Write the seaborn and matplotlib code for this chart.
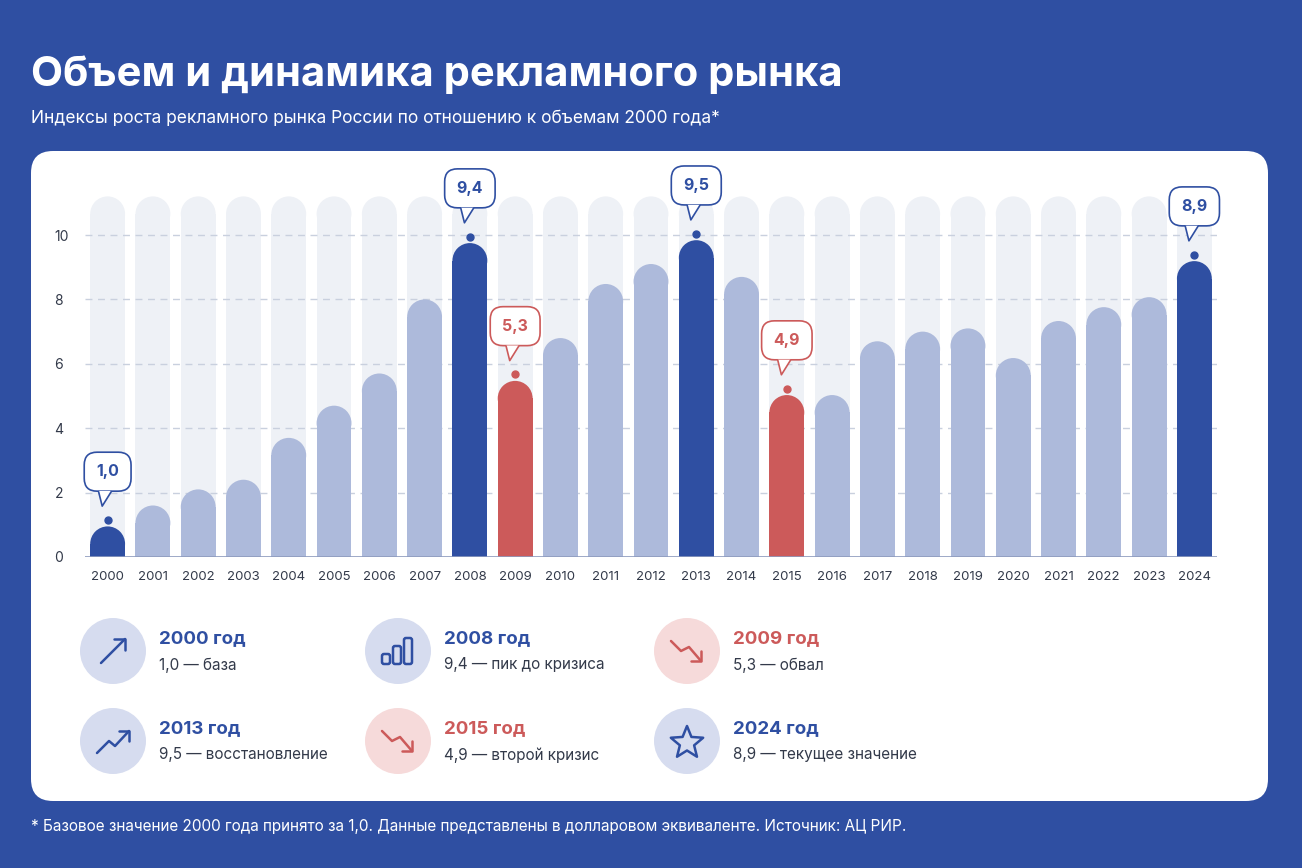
import matplotlib
matplotlib.use("Agg")
import matplotlib.pyplot as plt
import seaborn as sns
import pandas as pd
from matplotlib.patches import FancyBboxPatch, Ellipse, Rectangle, Circle, Polygon
import numpy as np

years = [str(y) for y in range(2000, 2025)]
values = [0.95, 1.6, 2.1, 2.4, 3.7, 4.7, 5.7, 8.0, 9.75, 5.47, 6.8, 8.48, 9.1, 9.84, 8.7,
          5.03, 5.03, 6.7, 7.0, 7.1, 6.18, 7.33, 7.76, 8.07, 9.19]
highlight = {"2000": "blue", "2008": "blue", "2013": "blue", "2024": "blue", "2009": "red", "2015": "red"}
callouts = {"2000": "1,0", "2008": "9,4", "2009": "5,3", "2013": "9,5", "2015": "4,9", "2024": "8,9"}
bg_height = 11.2
legend_titles = ["2000 год", "2008 год", "2009 год", "2013 год", "2015 год", "2024 год"]
legend_subs = ["1,0 — база", "9,4 — пик до кризиса", "5,3 — обвал",
               "9,5 — восстановление", "4,9 — второй кризис", "8,9 — текущее значение"]
legend_kind = ["blue", "blue", "red", "blue", "red", "blue"]

BG = "#2F4FA2"; DARK = "#2F4FA2"; LIGHT = "#ADBADB"; GREY = "#EEF1F6"; RED = "#CC5A5A"
sns.set_theme(style="white")
plt.rcParams['font.family'] = ['Inter', 'DejaVu Sans']

W, H = 1302, 868
fig = plt.figure(figsize=(13.02, 8.68), dpi=100, facecolor=BG)
bg = fig.add_axes([0, 0, 1, 1], zorder=0)
bg.set_xlim(0, W); bg.set_ylim(H, 0); bg.axis("off")
bg.add_patch(FancyBboxPatch((31, 151), 1237, 650, boxstyle="round,pad=0,rounding_size=22",
                            fc="white", ec="none"))
bg.text(31, 75, "Объем и динамика рекламного рынка", color="white", fontsize=30,
        fontweight="bold", va="center")
bg.text(31, 118, "Индексы роста рекламного рынка России по отношению к объемам 2000 года*",
        color="white", fontsize=12.5, va="center")
bg.text(31, 827, "* Базовое значение 2000 года принято за 1,0. Данные представлены в долларовом эквиваленте. Источник: АЦ РИР.",
        color="white", fontsize=11, va="center")

# legend
cols = [113, 398, 687]; rows = [651, 741]
for i, (t, s, k) in enumerate(zip(legend_titles, legend_subs, legend_kind)):
    cx = cols[i % 3]; cy = rows[i // 3]
    c = DARK if k == "blue" else RED
    bg.add_patch(Circle((cx, cy), 33, fc="#D6DCEF" if k == "blue" else "#F6DADA", ec="none"))
    bg.text(cx + 46, cy - 12, t, color=c, fontsize=13.5, fontweight="bold", va="center")
    bg.text(cx + 46, cy + 14, s, color="#333a4a", fontsize=11, va="center")
    lw = 1.8
    if i == 0:
        bg.plot([cx - 12, cx + 12], [cy + 12, cy - 12], color=c, lw=lw)
        bg.plot([cx + 1, cx + 12, cx + 12], [cy - 12, cy - 12, cy - 1], color=c, lw=lw)
    elif i == 1:
        for dx, hh in [(-12, 10), (-1, 18), (10, 26)]:
            bg.add_patch(FancyBboxPatch((cx + dx - 4, cy + 13 - hh), 8, hh,
                         boxstyle="round,pad=0,rounding_size=2", fc="none", ec=c, lw=lw))
    elif i in (2, 4):
        bg.plot([cx - 16, cx - 6, cx + 2, cx + 14], [cy - 10, cy, cy - 4, cy + 10], color=c, lw=lw)
        bg.plot([cx + 4, cx + 14, cx + 14], [cy + 10, cy + 10, cy], color=c, lw=lw)
    elif i == 3:
        bg.plot([cx - 16, cx - 4, cx + 2, cx + 16], [cy + 12, cy, cy + 5, cy - 10], color=c, lw=lw)
        bg.plot([cx + 6, cx + 16, cx + 16], [cy - 10, cy - 10, cy], color=c, lw=lw)
    else:
        ang = np.linspace(np.pi / 2, np.pi / 2 + 2 * np.pi, 11)[:-1]
        rr = np.array([17, 7.5] * 5)
        bg.add_patch(Polygon(np.c_[cx + rr * np.cos(ang), cy - rr * np.sin(ang) + 2],
                             closed=True, fc="none", ec=c, lw=lw, joinstyle="round"))

# chart
ax = fig.add_axes([85 / W, 1 - 557 / H, 1132 / W, 360.6 / H], zorder=2)
ax.patch.set_alpha(0)
df = pd.DataFrame({"year": years, "value": values})
sns.barplot(data=df, x="year", y=[bg_height] * len(years), color=GREY, width=0.77, ax=ax)
sns.barplot(data=df, x="year", y="value", color=LIGHT, width=0.77, ax=ax)
ax.set_xlim(-0.5, len(years) - 0.5); ax.set_ylim(0, bg_height)
fig.canvas.draw()
# pixel scale
p0 = ax.transData.transform((0, 0)); p1 = ax.transData.transform((1, 1))
sx = p1[0] - p0[0]; sy = p1[1] - p0[1]
patches = list(ax.patches)
n = len(years)
for j, p in enumerate(patches):
    x, w, h = p.get_x(), p.get_width(), p.get_height()
    yr = years[j % n]
    if j < n:
        col, z = GREY, 1
    else:
        k = highlight.get(yr)
        col = DARK if k == "blue" else RED if k == "red" else LIGHT
        z = 3
    p.set_visible(False)
    rh = (w / 2) * sx / sy
    ax.add_patch(Rectangle((x, 0), w, h - rh, fc=col, ec="none", zorder=z))
    ax.add_patch(Ellipse((x + w / 2, h - rh), w, 2 * rh, fc=col, ec="none", zorder=z))
for gy in [2, 4, 6, 8, 10]:
    ax.axhline(gy, color="#C9D0DE", lw=1, ls=(0, (5, 4)), zorder=2)
ax.axhline(0, color="#8E9BBE", lw=1.2, zorder=4)
for s in ax.spines.values():
    s.set_visible(False)
ax.set_xlabel(""); ax.set_ylabel("")
ax.set_yticks([0, 2, 4, 6, 8, 10])
ax.tick_params(axis="y", length=0, labelsize=10, labelcolor="#333a4a", pad=14)
ax.tick_params(axis="x", length=0, labelsize=9.5, labelcolor="#333a4a", pad=10)
for lab in ax.get_yticklabels():
    lab.set_horizontalalignment("left")
ax.tick_params(axis="y", pad=22)

for j, yr in enumerate(years):
    if yr in callouts:
        c = DARK if highlight[yr] == "blue" else RED
        v = values[j]
        dot = v + 0.2
        ax.plot(j, dot, "o", color=c, ms=5, zorder=6, clip_on=False)
        ty = dot + 1.5
        ax.text(j, ty, callouts[yr], ha="center", va="center", color=c, fontsize=11.5,
                fontweight="bold", zorder=7,
                bbox=dict(boxstyle="round,pad=0.75,rounding_size=0.8", fc="white", ec=c, lw=1.2))
        tail_top = ty - 0.62
        ax.add_patch(Polygon([[j - 0.2, tail_top + 0.02], [j + 0.08, tail_top + 0.02], [j - 0.12, tail_top - 0.45]],
                             closed=True, fc="white", ec="none", zorder=8, clip_on=False))
        ax.plot([j - 0.2, j - 0.12, j + 0.08], [tail_top, tail_top - 0.45, tail_top], color=c, lw=1.2,
                zorder=9, clip_on=False)

fig.savefig("out.png", dpi=100, facecolor=BG)
